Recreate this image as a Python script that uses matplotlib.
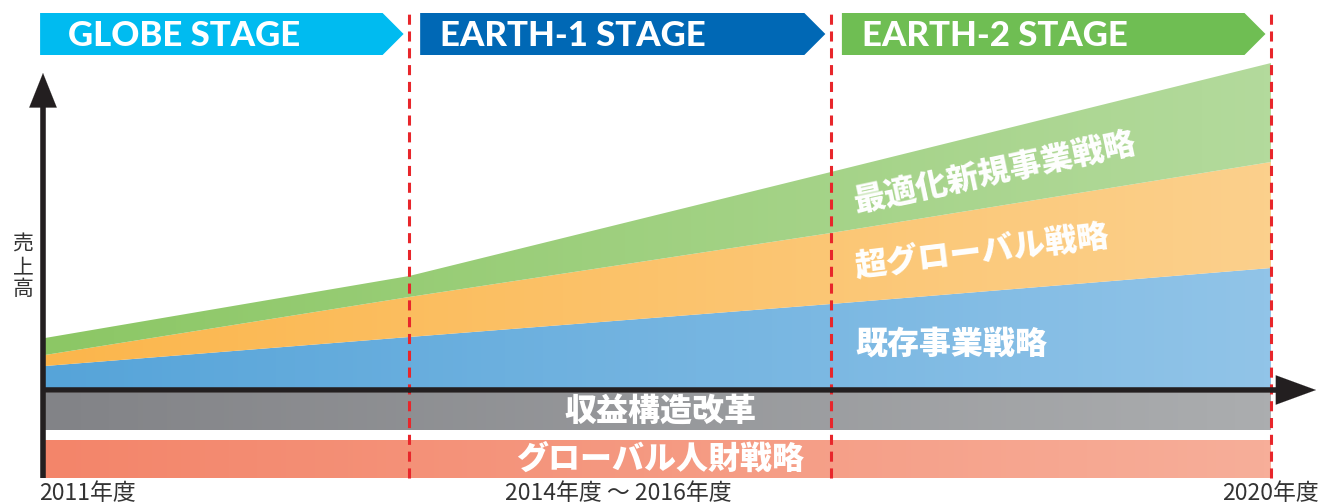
import numpy as np
import matplotlib
matplotlib.use("Agg")
import matplotlib.pyplot as plt
from matplotlib.patches import Polygon
from matplotlib.colors import LinearSegmentedColormap

plt.rcParams['font.family'] = ['Noto Sans CJK JP', 'DejaVu Sans']

# stages along the timeline (x position in years from 2011)
stage_names = ["GLOBE STAGE", "EARTH-1 STAGE", "EARTH-2 STAGE"]
stage_edges = [0, 2.97, 6.41, 10]
year_labels = ["2011年度", "2014年度 ～ 2016年度", "2020年度"]

# stacked sales index at each stage edge
existing = [24, 53, 86, 122]
super_global = [11, 40, 71, 106]
new_biz = [17, 21, 61, 99]
layer_names = ["既存事業戦略", "超グローバル戦略", "最適化新規事業戦略"]

# foundation bars under the axis
base_names = ["収益構造改革", "グローバル人財戦略"]
base_bands = [(-3, -40), (-50, -88)]

W, H = 1319, 504
XS = 122.6          # pixels per x unit
X0, Y0 = 45, 390    # pixel position of the origin


def px(p):
    return (p - X0) / XS


def py(p):
    return Y0 - p


fig = plt.figure(figsize=(W / 100, H / 100), dpi=100)
ax = fig.add_axes([0, 0, 1, 1])
ax.set_axis_off()


def gradient(ax, coll, c0, c1, z):
    path = coll.get_paths()[0]
    ext = path.get_extents()
    cmap = LinearSegmentedColormap.from_list("g", [c0, c1])
    im = ax.imshow(np.linspace(0, 1, 256).reshape(1, -1), cmap=cmap,
                   extent=[ext.x0, ext.x1, ext.y0, ext.y1], aspect='auto',
                   origin='lower', zorder=z, interpolation='bilinear')
    im.set_clip_path(path, coll.get_transform())


x = np.array(stage_edges)
lo = np.zeros(len(x))
layer_colors = [("#56a4d9", "#91c4e8"), ("#fbb64c", "#fbd08c"), ("#8cc765", "#b3da9c")]
for vals, (c0, c1) in zip([existing, super_global, new_biz], layer_colors):
    hi = lo + np.array(vals)
    coll = ax.fill_between(x, lo, hi, facecolor='none', edgecolor='none')
    gradient(ax, coll, c0, c1, 1)
    lo = hi

bar_colors = [("#828387", "#abadaf"), ("#f3856a", "#f7ae99")]
for (b0, b1), (c0, c1) in zip(base_bands, bar_colors):
    coll = ax.fill_between([stage_edges[0], stage_edges[-1]], [b1, b1], [b0, b0],
                           facecolor='none', edgecolor='none')
    gradient(ax, coll, c0, c1, 1)

# stage banners
banner_colors = ["#00bbf0", "#0068b5", "#6fbe53"]
top, bot = py(13), py(55)
mid = (top + bot) / 2
tip = 21 / XS
for i, (name, col) in enumerate(zip(stage_names, banner_colors)):
    left = stage_edges[i] + (0.09 if i > 0 else -0.04)
    right = stage_edges[i + 1] - 0.045
    ax.add_patch(Polygon([(left, bot), (right - tip, bot), (right, mid),
                          (right - tip, top), (left, top)], closed=True,
                         facecolor=col, edgecolor='none', zorder=3))
    ax.text(left + (28 if i == 0 else 20) / XS, mid - 2.5, name, color='white',
            family='Lato', fontweight='black', fontsize=25, va='center',
            ha='left', zorder=4)

# stage boundaries
for e in stage_edges[1:]:
    ax.plot([e, e], [py(478), py(8)], color='#e8262b', lw=2.2,
            linestyle=(0, (3.3, 2.2)), zorder=5)

# axes with arrow heads
ax.plot([px(43), px(43)], [py(478), py(95)], color='#231f20', lw=4,
        zorder=6, solid_capstyle='butt')
ax.annotate("", xy=(px(43), py(73)), xytext=(px(43), py(110)),
            arrowprops=dict(arrowstyle='-|>,head_length=0.55,head_width=0.22',
                            color='#231f20', lw=0.1,
                            mutation_scale=45, shrinkA=0, shrinkB=0), zorder=6)
ax.plot([px(41), px(1290)], [0, 0], color='#231f20', lw=4, zorder=6,
        solid_capstyle='butt')
ax.annotate("", xy=(px(1316), 0), xytext=(px(1270), 0),
            arrowprops=dict(arrowstyle='-|>,head_length=0.6,head_width=0.22',
                            color='#231f20', lw=0.1,
                            mutation_scale=48, shrinkA=0, shrinkB=0), zorder=6)

# layer labels
lab = dict(color='white', fontweight='heavy', fontsize=23, zorder=7,
           ha='center', va='center')
ax.text(px(951), py(345), layer_names[0], **lab)
ax.text(px(982), py(251), layer_names[1], rotation=7, **lab)
ax.text(px(995), py(172), layer_names[2], rotation=12, **lab)
ax.text(px(660), py(411), base_names[0], **lab)
ax.text(px(660), py(459), base_names[1], **lab)

# axis labels
ax.text(px(23), py(267), "売\n上\n高", color='#333333', fontsize=15,
        ha='center', va='center', linespacing=1.0)
ax.text(px(39), py(500.5), year_labels[0], color='#333333', fontsize=16.5,
        ha='left', va='baseline')
ax.text(px(618), py(500.5), year_labels[1], color='#333333', fontsize=16.5,
        ha='center', va='baseline')
ax.text(px(1319), py(500.5), year_labels[2], color='#333333', fontsize=16.5,
        ha='right', va='baseline')

ax.set_xlim(px(0), px(W))
ax.set_ylim(py(H), py(0))

fig.savefig("out.png", dpi=100)
